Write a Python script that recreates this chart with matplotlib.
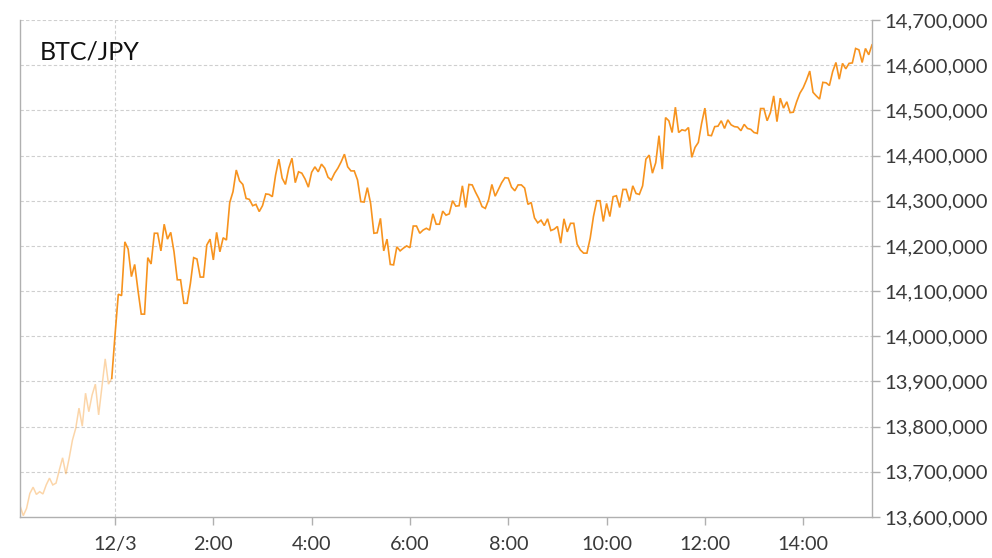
import matplotlib
matplotlib.use("Agg")
import matplotlib.pyplot as plt
import matplotlib.dates as mdates
from matplotlib.ticker import FuncFormatter
import pandas as pd

# ---- data ----
title = "BTC/JPY"
start_time = "2024-12-02 22:04"
interval = "4min"
prices = [
    13625000, 13603000, 13619000, 13652000, 13666000, 13650000, 13656000, 13651000, 13671000, 13686000,
    13671000, 13675000, 13704000, 13731000, 13695000, 13730000, 13770000, 13796000, 13841000, 13801000,
    13874000, 13833000, 13870000, 13894000, 13826000, 13888000, 13950000, 13894000, 13907000, 14003000,
    14093000, 14090000, 14209000, 14193000, 14132000, 14159000, 14102000, 14049000, 14049000, 14174000,
    14160000, 14228000, 14228000, 14189000, 14248000, 14215000, 14230000, 14187000, 14125000, 14125000,
    14073000, 14073000, 14117000, 14174000, 14171000, 14131000, 14131000, 14202000, 14215000, 14169000,
    14230000, 14187000, 14218000, 14213000, 14296000, 14320000, 14368000, 14344000, 14336000, 14305000,
    14303000, 14289000, 14292000, 14276000, 14289000, 14315000, 14314000, 14309000, 14357000, 14392000,
    14350000, 14336000, 14372000, 14394000, 14340000, 14364000, 14361000, 14348000, 14330000, 14363000,
    14375000, 14364000, 14381000, 14372000, 14352000, 14346000, 14361000, 14372000, 14386000, 14403000,
    14375000, 14366000, 14366000, 14346000, 14298000, 14297000, 14329000, 14294000, 14228000, 14229000,
    14261000, 14189000, 14215000, 14159000, 14158000, 14198000, 14189000, 14195000, 14200000, 14196000,
    14244000, 14244000, 14228000, 14235000, 14239000, 14235000, 14271000, 14248000, 14248000, 14277000,
    14268000, 14271000, 14300000, 14288000, 14289000, 14333000, 14285000, 14336000, 14335000, 14319000,
    14305000, 14287000, 14283000, 14302000, 14336000, 14310000, 14325000, 14340000, 14351000, 14350000,
    14330000, 14322000, 14335000, 14335000, 14328000, 14292000, 14296000, 14262000, 14251000, 14257000,
    14245000, 14260000, 14234000, 14237000, 14243000, 14206000, 14260000, 14231000, 14250000, 14250000,
    14204000, 14191000, 14184000, 14184000, 14217000, 14265000, 14300000, 14300000, 14254000, 14294000,
    14265000, 14309000, 14311000, 14285000, 14325000, 14325000, 14299000, 14333000, 14316000, 14314000,
    14333000, 14392000, 14401000, 14361000, 14384000, 14444000, 14370000, 14484000, 14477000, 14451000,
    14507000, 14451000, 14457000, 14455000, 14462000, 14396000, 14418000, 14429000, 14471000, 14505000,
    14445000, 14444000, 14464000, 14465000, 14477000, 14460000, 14479000, 14468000, 14464000, 14463000,
    14455000, 14469000, 14460000, 14458000, 14451000, 14449000, 14504000, 14504000, 14477000, 14495000,
    14532000, 14475000, 14527000, 14505000, 14519000, 14495000, 14496000, 14519000, 14538000, 14550000,
    14567000, 14587000, 14540000, 14532000, 14525000, 14562000, 14561000, 14555000, 14586000, 14606000,
    14569000, 14604000, 14592000, 14604000, 14605000, 14637000, 14634000, 14606000, 14637000, 14623000,
    14645000,
]
day_start = "2024-12-03 00:00"
x_tick_times = ["2024-12-03 00:00", "2024-12-03 02:00", "2024-12-03 04:00", "2024-12-03 06:00",
                "2024-12-03 08:00", "2024-12-03 10:00", "2024-12-03 12:00", "2024-12-03 14:00"]
x_tick_labels = ["12/3", "2:00", "4:00", "6:00", "8:00", "10:00", "12:00", "14:00"]
y_ticks = [13600000, 13700000, 13800000, 13900000, 14000000, 14100000,
           14200000, 14300000, 14400000, 14500000, 14600000, 14700000]

# ---- plot ----
plt.rcParams['font.family'] = ['Lato', 'DejaVu Sans']

times = pd.date_range(start_time, periods=len(prices), freq=interval)
s = pd.Series(prices, index=times)
cut = pd.Timestamp(day_start)
prev = s[s.index < cut]
today = s[s.index >= prev.index[-1]]

fig = plt.figure(figsize=(9.92, 5.58), dpi=100)
ax = fig.add_axes([20/992, 1 - 517/558, 852/992, 497/558])

orange = "#f7931e"
ax.plot(prev.index, prev.values, color=orange, alpha=0.38, lw=1.1, solid_joinstyle="miter")
ax.plot(today.index, today.values, color=orange, lw=1.2, solid_joinstyle="miter")

ax.set_xlim(times[0], times[-1])
ax.set_ylim(y_ticks[0], y_ticks[-1])

ax.set_yticks(y_ticks)
ax.yaxis.set_major_formatter(FuncFormatter(lambda v, p: f"{int(round(v)):,}"))
ax.yaxis.tick_right()
ax.set_xticks(pd.to_datetime(x_tick_times))
ax.set_xticklabels(x_tick_labels)

for sp in ["left", "right", "bottom"]:
    ax.spines[sp].set_color("#b0b0b0")
    ax.spines[sp].set_linewidth(1.0)
ax.spines["top"].set_visible(False)

ax.tick_params(axis="y", which="both", right=True, left=False, length=6, width=1.0,
               color="#b0b0b0", labelsize=14.6, labelcolor="#3a3a3a", pad=3)
ax.tick_params(axis="x", length=6, width=1.0, color="#b0b0b0", labelsize=14.3,
               labelcolor="#3a3a3a", pad=8)

# gridlines
for yv in y_ticks[1:]:
    ax.axhline(yv, color="#cfcfcf", lw=0.8, ls=(0, (3, 2)), zorder=0)
ax.axvline(cut, color="#cfcfcf", lw=0.8, ls=(0, (3, 2)), zorder=0)

ax.text(20/852, 0.935, title, transform=ax.transAxes, fontsize=18, color="#111111",
        ha="left", va="center")

fig.savefig("out.png", dpi=100)
